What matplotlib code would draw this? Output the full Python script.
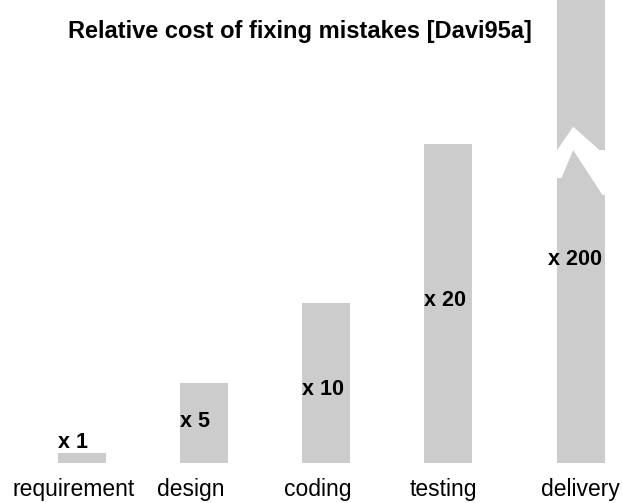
import numpy as np
import matplotlib
matplotlib.use("Agg")
import matplotlib.pyplot as plt
from matplotlib.patches import Polygon

plt.rcParams['font.family'] = ['Liberation Sans', 'DejaVu Sans']

# data
phases = ['requirement', 'design', 'coding', 'testing', 'delivery']
cost_factor = [1, 5, 10, 20, 200]
# drawn bar heights (delivery is cut off by the break, so it just runs off the top)
bar_height = [0.63, 5.04, 10, 19.96, 30]

# layout
xpos = np.array([0, 1, 2, 3, 4.09])
bar_w = 0.40
label_dx = [-0.066, -0.107, -0.066, -0.041, -0.008]
note_y = [0.97, 2.29, 4.27, 9.83, 12.4]
gray = '#cccccc'

fig = plt.figure(figsize=(6.22, 5.03), dpi=100)
ax = fig.add_axes([0, 0.0789, 1, 0.9211])
ax.set_xlim(-0.672, 4.426)
ax.set_ylim(0, 28.96)
ax.axis('off')

ax.bar(xpos, bar_height, width=bar_w, color=gray, linewidth=0, clip_on=True)

# zig-zag break on the delivery bar
left = xpos[4] - bar_w / 2
fx = lambda f: left + f * bar_w
brk = [(fx(-0.03), 19.4), (fx(0.34), 21.04), (fx(0.88), 19.58), (fx(1.03), 19.58),
       (fx(1.03), 16.77), (fx(0.94), 16.77), (fx(0.34), 19.58), (fx(0.1), 17.83),
       (fx(-0.03), 17.83)]
ax.add_patch(Polygon(brk, closed=True, facecolor='white', edgecolor='none', zorder=3))

# "x N" notes
for i, c in enumerate(cost_factor):
    if i < 4:
        ax.text(xpos[i] - bar_w / 2, note_y[i], 'x %d' % c, ha='left', va='baseline',
                fontsize=15.5, fontweight='bold', zorder=4)
    else:
        ax.text(xpos[i] + bar_w / 2 - 0.025, note_y[i], 'x %d' % c, ha='right', va='baseline',
                fontsize=15.5, fontweight='bold', zorder=4)

# phase names under the bars
for i, p in enumerate(phases):
    ax.text(xpos[i] + label_dx[i], -2.04, p, ha='center', va='baseline',
            fontsize=16.5, clip_on=False)

fig.text(300 / 622, 1 - 38 / 503, 'Relative cost of fixing mistakes [Davi95a]',
         ha='center', va='baseline', fontsize=17, fontweight='bold')

fig.savefig('out.png', dpi=100, facecolor='white')
